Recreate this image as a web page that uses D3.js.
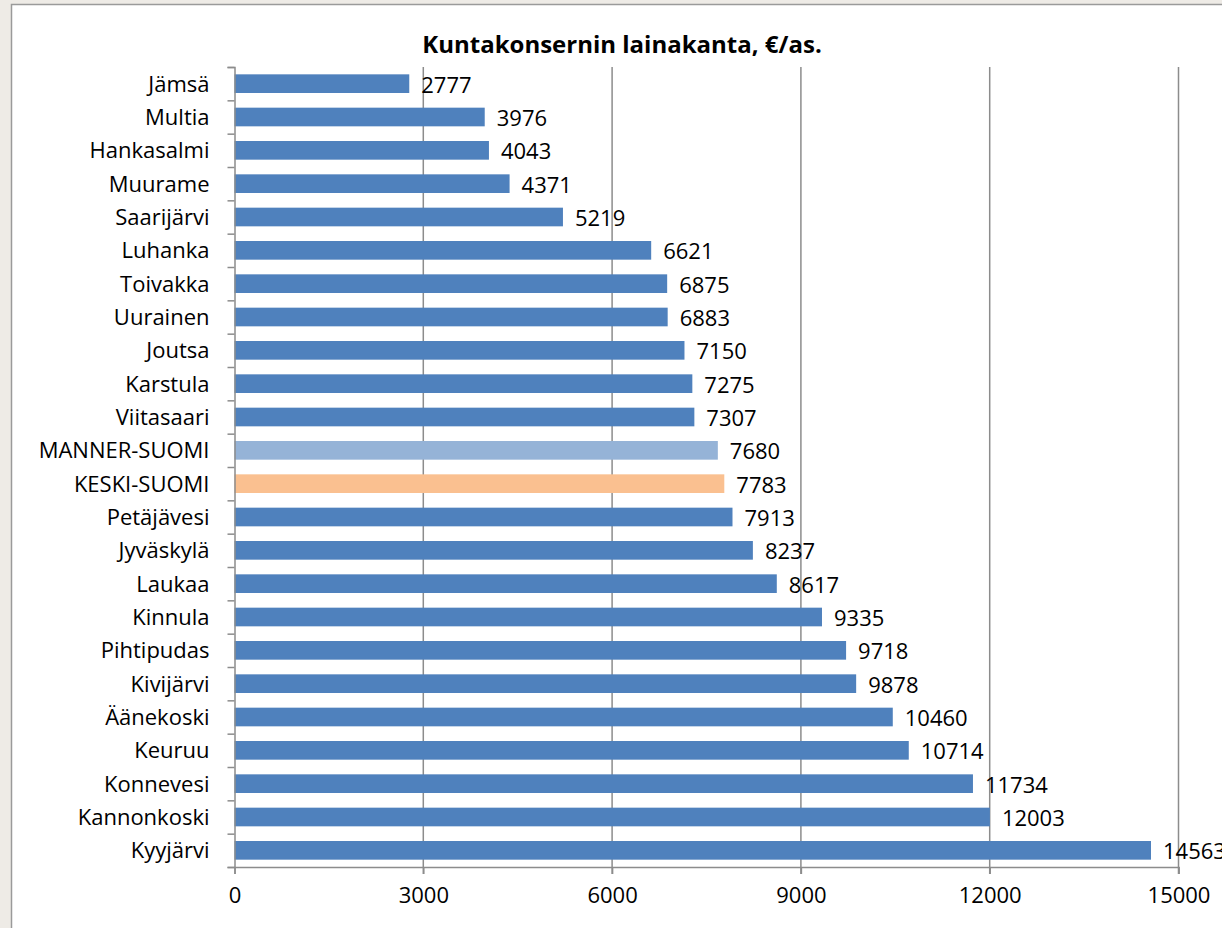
<!DOCTYPE html>
<html>
<head>
<meta charset="utf-8">
<script src="https://cdn.jsdelivr.net/npm/d3@7"></script>
<style>
  html, body { margin: 0; padding: 0; background: #eeebe6; }
  svg { display: block; }
</style>
</head>
<body>
<svg id="chart" width="1222" height="928"></svg>
<script>
// Municipal group loan stock, euros per inhabitant
const categories = ["Jämsä","Multia","Hankasalmi","Muurame","Saarijärvi","Luhanka","Toivakka","Uurainen","Joutsa","Karstula","Viitasaari","MANNER-SUOMI","KESKI-SUOMI","Petäjävesi","Jyväskylä","Laukaa","Kinnula","Pihtipudas","Kivijärvi","Äänekoski","Keuruu","Konnevesi","Kannonkoski","Kyyjärvi"];
const values = [2777,3976,4043,4371,5219,6621,6875,6883,7150,7275,7307,7680,7783,7913,8237,8617,9335,9718,9878,10460,10714,11734,12003,14563];
const xTicks = [0,3000,6000,9000,12000,15000];
const title = "Kuntakonsernin lainakanta, €/as.";

const colorFor = name => name === "MANNER-SUOMI" ? "#95b3d7" : name === "KESKI-SUOMI" ? "#fac090" : "#4f81bd";
const font = "'Open Sans', Lato, sans-serif";
const fontSize = 22;

const svg = d3.select("#chart");

// chart frame
svg.append("rect").attr("x", 11.5).attr("y", 4.5).attr("width", 1240).attr("height", 960)
  .attr("fill", "#ffffff").attr("stroke", "#9a9a9a").attr("stroke-width", 1.5);

const plotLeft = 234.5, plotRight = 1178.5, plotTop = 67, plotBottom = 867;

const x = d3.scaleLinear().domain([0, 15000]).range([plotLeft, plotRight]);
const y = d3.scaleBand().domain(categories).range([plotTop, plotBottom]).paddingInner(0.44).paddingOuter(0.22);

// vertical gridlines
svg.append("g").selectAll("line").data(xTicks.slice(1)).join("line")
  .attr("x1", d => x(d)).attr("x2", d => x(d))
  .attr("y1", plotTop).attr("y2", plotBottom + 7)
  .attr("stroke", "#8c8c8c").attr("stroke-width", 1.5);

// bars
svg.append("g").selectAll("rect").data(categories).join("rect")
  .attr("x", x(0)).attr("y", d => y(d))
  .attr("width", (d, i) => x(values[i]) - x(0))
  .attr("height", y.bandwidth())
  .attr("fill", d => colorFor(d));

// value labels
svg.append("g").selectAll("text").data(categories).join("text")
  .attr("x", (d, i) => x(values[i]) + 12)
  .attr("y", d => y(d) + y.bandwidth() / 2 + 9)
  .attr("font-family", font).attr("font-size", fontSize).attr("fill", "#000")
  .text((d, i) => values[i]);

// y axis
const yAxis = d3.axisLeft(d3.scaleLinear().domain([0, categories.length]).range([plotTop, plotBottom]))
  .tickValues(d3.range(categories.length + 1)).tickSize(7).tickFormat("");
const yg = svg.append("g").attr("transform", `translate(${plotLeft},0)`).call(yAxis);
yg.selectAll("path, line").attr("stroke", "#8c8c8c").attr("stroke-width", 1.5);

// category labels
svg.append("g").selectAll("text").data(categories).join("text")
  .attr("x", plotLeft - 25)
  .attr("y", d => y(d) + y.bandwidth() / 2 + 8)
  .attr("text-anchor", "end")
  .attr("font-family", font).attr("font-size", fontSize).attr("fill", "#000")
  .text(d => d);

// x axis
const xAxis = d3.axisBottom(x).tickValues(xTicks).tickSize(7).tickPadding(13).tickFormat(d3.format("d"));
const xg = svg.append("g").attr("transform", `translate(0,${plotBottom})`).call(xAxis);
xg.selectAll("path, line").attr("stroke", "#8c8c8c").attr("stroke-width", 1.5);
xg.selectAll("text").attr("font-family", font).attr("font-size", fontSize).attr("fill", "#000");

// title
svg.append("text").attr("x", 622).attr("y", 53).attr("text-anchor", "middle")
  .attr("font-family", font).attr("font-size", 24).attr("font-weight", "bold").attr("fill", "#000")
  .text(title);
</script>
</body>
</html>
